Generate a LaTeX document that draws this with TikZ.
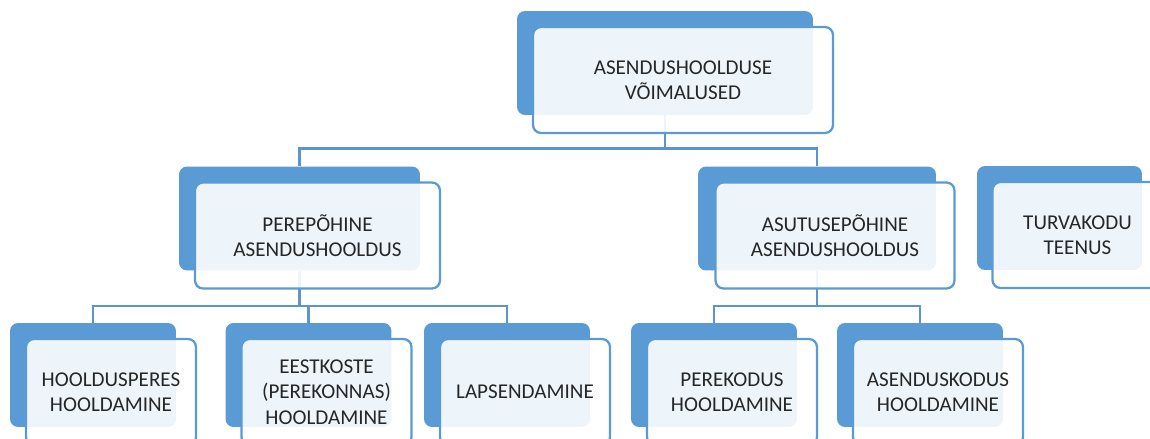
\documentclass[tikz,border=0pt]{standalone}
\usepackage{fontspec}
\setmainfont{Carlito}
\usetikzlibrary{calc}
\definecolor{boxblue}{HTML}{5B9BD5}
\definecolor{linkblue}{HTML}{5B94CE}
\definecolor{labelgray}{HTML}{262626}

\begin{document}
\begin{tikzpicture}[x=0.02cm,y=-0.02cm,
  back/.style={fill=boxblue,rounded corners=0.16cm,minimum width=3.32cm,minimum height=2.08cm,inner sep=0pt},
  front/.style={draw=boxblue,line width=1.3pt,fill=white,fill opacity=0.9,text opacity=1,text=labelgray,rounded corners=0.16cm,minimum width=3.4cm,minimum height=2.12cm,inner sep=0pt,align=center,font=\fontsize{12}{14.5}\selectfont},
  link/.style={draw=linkblue,line width=1.4pt}]
\clip (0,0) rectangle (1150,439);
% back plates
\node[back,minimum width=5.92cm] (topb) at (665,63) {};
\node[back,minimum width=4.82cm] (pereb) at (299.5,218.5) {};
\node[back,minimum width=4.76cm] (asutb) at (817,218.5) {};
\node[back,minimum width=3.3cm] (turvab) at (1059.5,218) {};
\node[back] (hooldb) at (93,375) {};
\node[back] (eestb) at (308.5,375) {};
\node[back] (lapsb) at (507,375) {};
\node[back] (perekb) at (714,375) {};
\node[back] (asenkb) at (920,375) {};
% connectors
\draw[link] (topb.south) -- ++(0,33) -| (pereb.north);
\draw[link] (topb.south) -- ++(0,33) -| (asutb.north);
\draw[link] (pereb.south) -- ++(0,35) -| (hooldb.north);
\draw[link] (pereb.south) -- ++(0,35) -| (eestb.north);
\draw[link] (pereb.south) -- ++(0,35) -| (lapsb.north);
\draw[link] (asutb.south) -- ++(0,35) -| (perekb.north);
\draw[link] (asutb.south) -- ++(0,35) -| (asenkb.north);
% front boxes
\node[front,minimum width=6cm] (top) at ($(topb)+(18,17)$) {ASENDUSHOOLDUSE\\VÕIMALUSED};
\node[front,minimum width=4.9cm] (pere) at ($(pereb)+(18,17)$) {PEREPÕHINE\\ASENDUSHOOLDUS};
\node[front,minimum width=4.78cm] (asut) at ($(asutb)+(18,17)$) {ASUTUSEPÕHINE\\ASENDUSHOOLDUS};
\node[front] (turva) at ($(turvab)+(18,17)$) {TURVAKODU\\TEENUS};
\node[front] (hoold) at ($(hooldb)+(18,17)$) {HOOLDUSPERES\\HOOLDAMINE};
\node[front] (eest) at ($(eestb)+(18,17)$) {EESTKOSTE\\(PEREKONNAS)\\HOOLDAMINE};
\node[front] (laps) at ($(lapsb)+(18,17)$) {LAPSENDAMINE};
\node[front] (perek) at ($(perekb)+(18,17)$) {PEREKODUS\\HOOLDAMINE};
\node[front] (asenk) at ($(asenkb)+(18,17)$) {ASENDUSKODUS\\HOOLDAMINE};
\end{tikzpicture}
\end{document}
